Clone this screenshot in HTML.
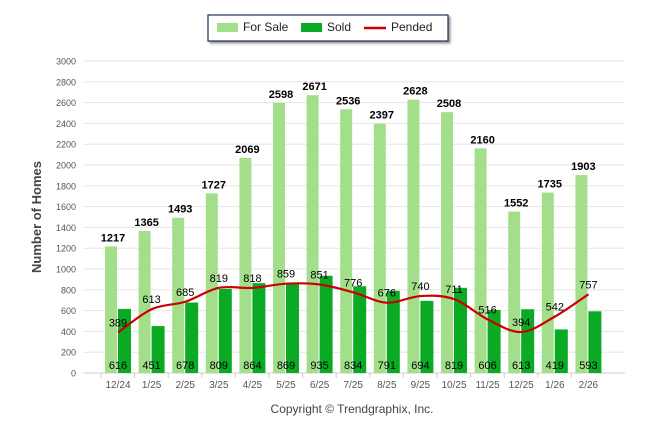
<!DOCTYPE html>
<html><head><meta charset="utf-8"><style>
body{margin:0;background:#fff;font-family:"Liberation Sans",Arial,sans-serif}
svg text{font-family:"Liberation Sans",Arial,sans-serif}
</style></head><body>
<svg id="c" width="646" height="434" viewBox="0 0 646 434" xmlns="http://www.w3.org/2000/svg">
<g>
<rect x="208" y="15" width="240" height="26" fill="#fff" stroke="#1f2f5a" stroke-width="1.2" style="filter:drop-shadow(2px 2px 1px #999)"/>
<rect x="217" y="23" width="21" height="9" fill="#a3df8b"/>
<text x="243" y="31" font-size="12" fill="#222">For Sale</text>
<rect x="301" y="23" width="21" height="9" fill="#0aaa24"/>
<text x="327" y="31" font-size="12" fill="#222">Sold</text>
<line x1="364" y1="28" x2="386" y2="28" stroke="#c00" stroke-width="2.5"/>
<text x="391" y="31" font-size="12" fill="#222">Pended</text>
</g>
<text transform="translate(41,217) rotate(-90)" text-anchor="middle" font-size="13" font-weight="bold" fill="#444">Number of Homes</text>
<text x="352" y="413" text-anchor="middle" font-size="12" fill="#444">Copyright © Trendgraphix, Inc.</text>
<g id="grid"></g><g id="bars"></g><g id="line"></g><g id="labels"></g>
</svg>
<script>
const categories=["12/24","1/25","2/25","3/25","4/25","5/25","6/25","7/25","8/25","9/25","10/25","11/25","12/25","1/26","2/26"];
const forSale=[1217,1365,1493,1727,2069,2598,2671,2536,2397,2628,2508,2160,1552,1735,1903];
const sold=[616,451,678,809,864,869,935,834,791,694,819,606,613,419,593];
const pended=[389,613,685,819,818,859,851,776,676,740,711,516,394,542,757];
const yTicks=[0,200,400,600,800,1000,1200,1400,1600,1800,2000,2200,2400,2600,2800,3000];
const NS="http://www.w3.org/2000/svg";
const y=v=>373-v*312/3000;
const x=i=>118+i*33.6;
function mk(tag,attrs,parent,txt){const e=document.createElementNS(NS,tag);for(const k in attrs)e.setAttribute(k,attrs[k]);if(txt!==undefined)e.textContent=txt;document.getElementById(parent).appendChild(e);return e;}
yTicks.forEach(t=>{
 const l=mk('line',{x1:84,x2:625,y1:y(t),y2:y(t),stroke:t===0?'#ccc':'#e6e6e6','stroke-width':1},'grid');
 
 
 const tx=mk('text',{x:76,y:y(t)+3.5,'text-anchor':'end','font-size':9,fill:'#555'},'grid',t);
 
 
});
categories.forEach((c,i)=>{
 const tk=mk('line',{x1:x(i)-17,x2:x(i)-17,y1:373,y2:378,stroke:'#ccc'},'grid');
 
 
 const t=mk('text',{x:x(i),y:388,'text-anchor':'middle','font-size':10,fill:'#555'},'grid',c);
 
 
 const b1=mk('rect',{x:x(i)-13,y:y(forSale[i]),width:12,height:373-y(forSale[i]),fill:'#a3df8b'},'bars');
 
 
 const b2=mk('rect',{x:x(i),y:y(sold[i]),width:13,height:373-y(sold[i]),fill:'#0aaa24'},'bars');
 
 
 const l1=mk('text',{x:x(i)-5,y:y(forSale[i])-5,'text-anchor':'middle','font-size':11,'font-weight':'bold',fill:'#000'},'labels',forSale[i]);
 
 
 const l2=mk('text',{x:x(i),y:369,'text-anchor':'middle','font-size':11,fill:'#000'},'labels',sold[i]);
 
 
 const l3=mk('text',{x:x(i),y:y(pended[i])-6,'text-anchor':'middle','font-size':11,fill:'#000'},'labels',pended[i]);
 
 
});
const pts=pended.map((v,i)=>[x(i),y(v)]);
let d=`M${pts[0][0]},${pts[0][1]}`;
for(let i=0;i<pts.length-1;i++){
 const p0=pts[Math.max(0,i-1)],p1=pts[i],p2=pts[i+1],p3=pts[Math.min(pts.length-1,i+2)];
 const c1=[p1[0]+(p2[0]-p0[0])/6,p1[1]+(p2[1]-p0[1])/6],c2=[p2[0]-(p3[0]-p1[0])/6,p2[1]-(p3[1]-p1[1])/6];
 d+=` C${c1[0]},${c1[1]} ${c2[0]},${c2[1]} ${p2[0]},${p2[1]}`;
}
const ln=mk('path',{d:d,fill:'none',stroke:'#c00','stroke-width':2.2},'line');


</script>
</body></html>
